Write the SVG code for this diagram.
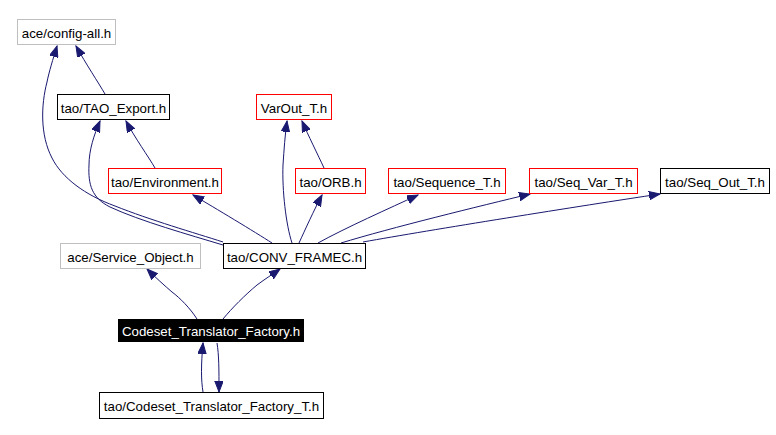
<svg xmlns="http://www.w3.org/2000/svg" width="776" height="435" viewBox="0 0 776 435">
<style>
.n rect{fill:#ffffff;stroke-width:1}
.g rect{stroke:#bfbfbf}
.r rect{stroke:#ff0000}
.k rect{stroke:#000000}
text{font-family:"Liberation Sans",Arial,Helvetica,sans-serif;font-size:13.3px;text-anchor:middle;fill:#000000}
#edges path{fill:none;stroke:#191970;stroke-width:1;marker-end:url(#arr)}
</style>
<defs>
<marker id="arr" markerWidth="12" markerHeight="9" refX="11" refY="4.25" orient="auto" markerUnits="userSpaceOnUse">
<path d="M0,0 L11,4.25 L0,8.5 z" fill="#191970" stroke="#191970" stroke-width="1"/>
</marker>
</defs>
<rect x="0" y="0" width="776" height="435" fill="#ffffff"/>
<g id="edges">
<path d="M105,94 C98,82 86,64 76,46"/>
<path d="M223,242 C195,233 150,220 115,206 C85,195 62,178 52,158 C40,135 41,105 47,82 C49,72 53,59 57,46"/>
<path d="M223,245 C190,235 140,221 110,207 C92,198 88,185 89,165 C89,150 94,135 100,121"/>
<path d="M155,168 C148,156 135,138 126,121"/>
<path d="M272,243 C255,232 215,208 193,195"/>
<path d="M292,243 C286,225 282,190 283,165 C284,150 285,135 287,121"/>
<path d="M324,168 C318,155 308,135 302,121"/>
<path d="M299,243 C305,230 314,210 322,195"/>
<path d="M318,243 C345,228 390,208 418,195"/>
<path d="M341,243 C390,228 480,206 530,194"/>
<path d="M363,242 C430,230 580,206 660,194"/>
<path d="M197,319 C190,308 180,298 172,292 C165,286 155,277 147,269"/>
<path d="M223,319 C232,308 245,295 257,285 C265,279 273,274 280,269"/>
<path d="M203,392 C201,380 201,365 203,343"/>
<path d="M217,343 C219,355 219,370 219,392"/>
</g>
<g id="node-config-all" class="n g"><rect x="17.5" y="19.5" width="98" height="25"/><text x="66.5" y="38">ace/config-all.h</text></g>
<g id="node-tao-export" class="n k"><rect x="57.5" y="94.5" width="112" height="25"/><text x="113.5" y="113">tao/TAO_Export.h</text></g>
<g id="node-varout" class="n r"><rect x="256.5" y="94.5" width="75" height="25"/><text x="294" y="113">VarOut_T.h</text></g>
<g id="node-environment" class="n r"><rect x="108.5" y="168.5" width="113" height="25"/><text x="165" y="187">tao/Environment.h</text></g>
<g id="node-orb" class="n r"><rect x="295.5" y="168.5" width="70" height="25"/><text x="330.5" y="187">tao/ORB.h</text></g>
<g id="node-sequence" class="n r"><rect x="388.5" y="168.5" width="117" height="25"/><text x="447" y="187">tao/Sequence_T.h</text></g>
<g id="node-seqvar" class="n r"><rect x="529.5" y="168.5" width="108" height="25"/><text x="583.5" y="187">tao/Seq_Var_T.h</text></g>
<g id="node-seqout" class="n k"><rect x="660.5" y="168.5" width="109" height="25"/><text x="715" y="187">tao/Seq_Out_T.h</text></g>
<g id="node-service-object" class="n g"><rect x="60.5" y="243.5" width="140" height="25"/><text x="130.5" y="262">ace/Service_Object.h</text></g>
<g id="node-conv-framec" class="n k"><rect x="223.5" y="243.5" width="142" height="25"/><text x="294.5" y="262">tao/CONV_FRAMEC.h</text></g>
<g id="node-codeset"><rect x="118" y="319" width="186" height="23" fill="#000000"/><text x="211" y="336" fill="#ffffff" style="fill:#ffffff">Codeset_Translator_Factory.h</text></g>
<g id="node-codeset-t" class="n k"><rect x="99.5" y="392.5" width="224" height="26"/><text x="211.5" y="411">tao/Codeset_Translator_Factory_T.h</text></g>
</svg>
